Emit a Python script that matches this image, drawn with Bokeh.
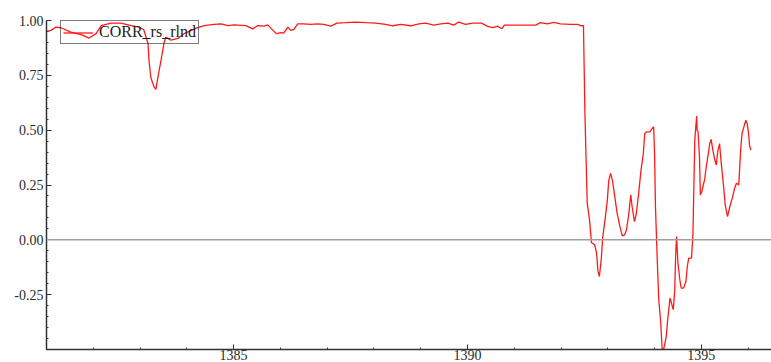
from bokeh.plotting import figure
from bokeh.models import Range1d, FixedTicker, Span, Legend, LegendItem
from bokeh.embed import file_html
from bokeh.resources import INLINE

# Rolling correlation series CORR_rs_rlnd (decimal year vs. correlation)
years = [
    1381.01, 1381.10, 1381.20, 1381.31, 1381.52, 1381.74, 1381.91, 1382.06, 1382.17, 1382.38,
    1382.59, 1382.81, 1382.98, 1383.08, 1383.17, 1383.19, 1383.23, 1383.30, 1383.34, 1383.38,
    1383.45, 1383.51, 1383.55, 1383.66, 1383.81, 1383.94, 1384.19, 1384.37, 1384.58, 1384.73,
    1384.88, 1385.01, 1385.26, 1385.41, 1385.52, 1385.65, 1385.73, 1385.84, 1385.92, 1386.01,
    1386.07, 1386.16, 1386.22, 1386.29, 1386.37, 1386.50, 1386.65, 1386.80, 1386.93, 1387.08,
    1387.21, 1387.40, 1387.61, 1387.83, 1388.04, 1388.25, 1388.40, 1388.57, 1388.79, 1388.96,
    1389.11, 1389.28, 1389.43, 1389.58, 1389.71, 1389.81, 1389.96, 1390.11, 1390.30, 1390.43,
    1390.54, 1390.65, 1390.73, 1390.79, 1391.14, 1391.46, 1391.56, 1391.71, 1391.84, 1391.99,
    1392.20, 1392.35, 1392.44, 1392.48, 1392.49, 1392.51, 1392.54, 1392.56, 1392.61, 1392.65,
    1392.72, 1392.76, 1392.79, 1392.82, 1392.86, 1392.89, 1392.94, 1392.99, 1393.02, 1393.06,
    1393.10, 1393.14, 1393.20, 1393.26, 1393.31, 1393.36, 1393.40, 1393.45, 1393.49, 1393.52,
    1393.57, 1393.61, 1393.66, 1393.71, 1393.76, 1393.79, 1393.83, 1393.90, 1393.95, 1393.98,
    1394.00, 1394.02, 1394.06, 1394.09, 1394.13, 1394.16, 1394.18, 1394.21, 1394.25, 1394.28,
    1394.33, 1394.36, 1394.40, 1394.43, 1394.45, 1394.47, 1394.50, 1394.54, 1394.57, 1394.62,
    1394.67, 1394.70, 1394.73, 1394.79, 1394.82, 1394.84, 1394.86, 1394.90, 1394.91, 1394.93,
    1394.96, 1394.98, 1395.01, 1395.04, 1395.07, 1395.11, 1395.15, 1395.18, 1395.21, 1395.24,
    1395.28, 1395.32, 1395.35, 1395.39, 1395.41, 1395.44, 1395.48, 1395.51, 1395.56, 1395.61,
    1395.66, 1395.71, 1395.75, 1395.80, 1395.84, 1395.87, 1395.91, 1395.95, 1395.98, 1396.01,
    1396.03, 1396.06,
]
corr = [
    0.950, 0.955, 0.970, 0.967, 0.947, 0.936, 0.920, 0.940, 0.977, 0.988,
    0.988, 0.977, 0.970, 0.958, 0.895, 0.820, 0.740, 0.697, 0.686, 0.740,
    0.820, 0.895, 0.924, 0.910, 0.918, 0.940, 0.964, 0.977, 0.982, 0.985,
    0.977, 0.980, 0.977, 0.962, 0.977, 0.974, 0.980, 0.955, 0.940, 0.945,
    0.942, 0.970, 0.955, 0.960, 0.985, 0.985, 0.982, 0.985, 0.982, 0.974,
    0.988, 0.990, 0.993, 0.990, 0.988, 0.982, 0.976, 0.982, 0.976, 0.985,
    0.988, 0.979, 0.985, 0.988, 0.979, 0.993, 0.982, 0.988, 0.988, 0.973,
    0.967, 0.974, 0.962, 0.979, 0.979, 0.979, 0.990, 0.985, 0.991, 0.985,
    0.982, 0.982, 0.976, 0.977, 0.848, 0.590, 0.333, 0.167, 0.090, -0.012,
    -0.023, -0.060, -0.144, -0.167, -0.090, 0.008, 0.090, 0.180, 0.270, 0.303,
    0.270, 0.212, 0.121, 0.060, 0.018, 0.023, 0.045, 0.120, 0.205, 0.152,
    0.083, 0.120, 0.212, 0.318, 0.394, 0.485, 0.492, 0.492, 0.508, 0.515,
    0.394, 0.145, -0.106, -0.273, -0.371, -0.490, -0.510, -0.485, -0.440, -0.364,
    -0.265, -0.288, -0.318, -0.235, -0.076, 0.015, -0.106, -0.182, -0.220, -0.220,
    -0.190, -0.121, -0.083, -0.083, 0.023, 0.242, 0.455, 0.564, 0.500, 0.492,
    0.379, 0.205, 0.220, 0.250, 0.273, 0.341, 0.394, 0.439, 0.458, 0.417,
    0.371, 0.341, 0.402, 0.439, 0.386, 0.318, 0.235, 0.159, 0.106, 0.152,
    0.189, 0.235, 0.258, 0.250, 0.409, 0.485, 0.515, 0.545, 0.530, 0.485,
    0.432, 0.409,
]

series_name = "CORR_rs_rlnd"
x_major = [1385, 1390, 1395]
x_minor = list(range(1381, 1397))
y_major = [-0.25, 0.0, 0.25, 0.5, 0.75, 1.0]
y_minor = [round(-0.5 + 0.05 * i, 2) for i in range(31)]

p = figure(
    width=771, height=362,
    x_range=Range1d(1381.0, 1396.5), y_range=Range1d(-0.5, 1.0),
    output_backend="svg", toolbar_location=None,
    min_border_left=46, min_border_right=0, min_border_top=20, min_border_bottom=0,
)
p.background_fill_color = "white"
p.border_fill_color = "white"
p.outline_line_color = None
p.xgrid.visible = False
p.ygrid.visible = False

tick_font = "Liberation Serif"
for ax in (p.xaxis[0], p.yaxis[0]):
    ax.axis_line_color = "#333333"
    ax.axis_line_width = 1.5
    ax.major_tick_line_color = "#333333"
    ax.minor_tick_line_color = "#333333"
    ax.major_tick_out = 0
    ax.major_tick_in = 5
    ax.minor_tick_out = 0
    ax.minor_tick_in = 2
    ax.major_label_text_font = tick_font
    ax.major_label_text_font_size = "14px"
    ax.major_label_text_color = "#2a2a2a"

p.xaxis[0].ticker = FixedTicker(ticks=x_major, minor_ticks=x_minor)
p.yaxis[0].ticker = FixedTicker(ticks=y_major, minor_ticks=y_minor)
p.yaxis[0].major_label_overrides = {v: f"{v:.2f}" for v in y_major}
p.xaxis[0].major_label_standoff = 0
p.yaxis[0].major_label_standoff = 3

# zero reference line
p.add_layout(Span(location=0, dimension="width", line_color="#a0a0a0", line_width=1.5))

r = p.line(years, corr, line_color="#ff1a1a", line_width=1.3)

legend = Legend(items=[LegendItem(label=series_name, renderers=[r])],
                location=(14, 305))
legend.background_fill_alpha = 0
legend.border_line_color = "black"
legend.border_line_width = 1
legend.label_text_font = tick_font
legend.label_text_font_size = "16px"
legend.label_text_color = "#222222"
legend.glyph_width = 30
legend.glyph_height = 11
legend.label_height = 11
legend.padding = 2
legend.spacing = 0
legend.margin = 0
legend.label_standoff = 6
p.add_layout(legend)

open("out.html", "w").write(file_html(p, INLINE))
